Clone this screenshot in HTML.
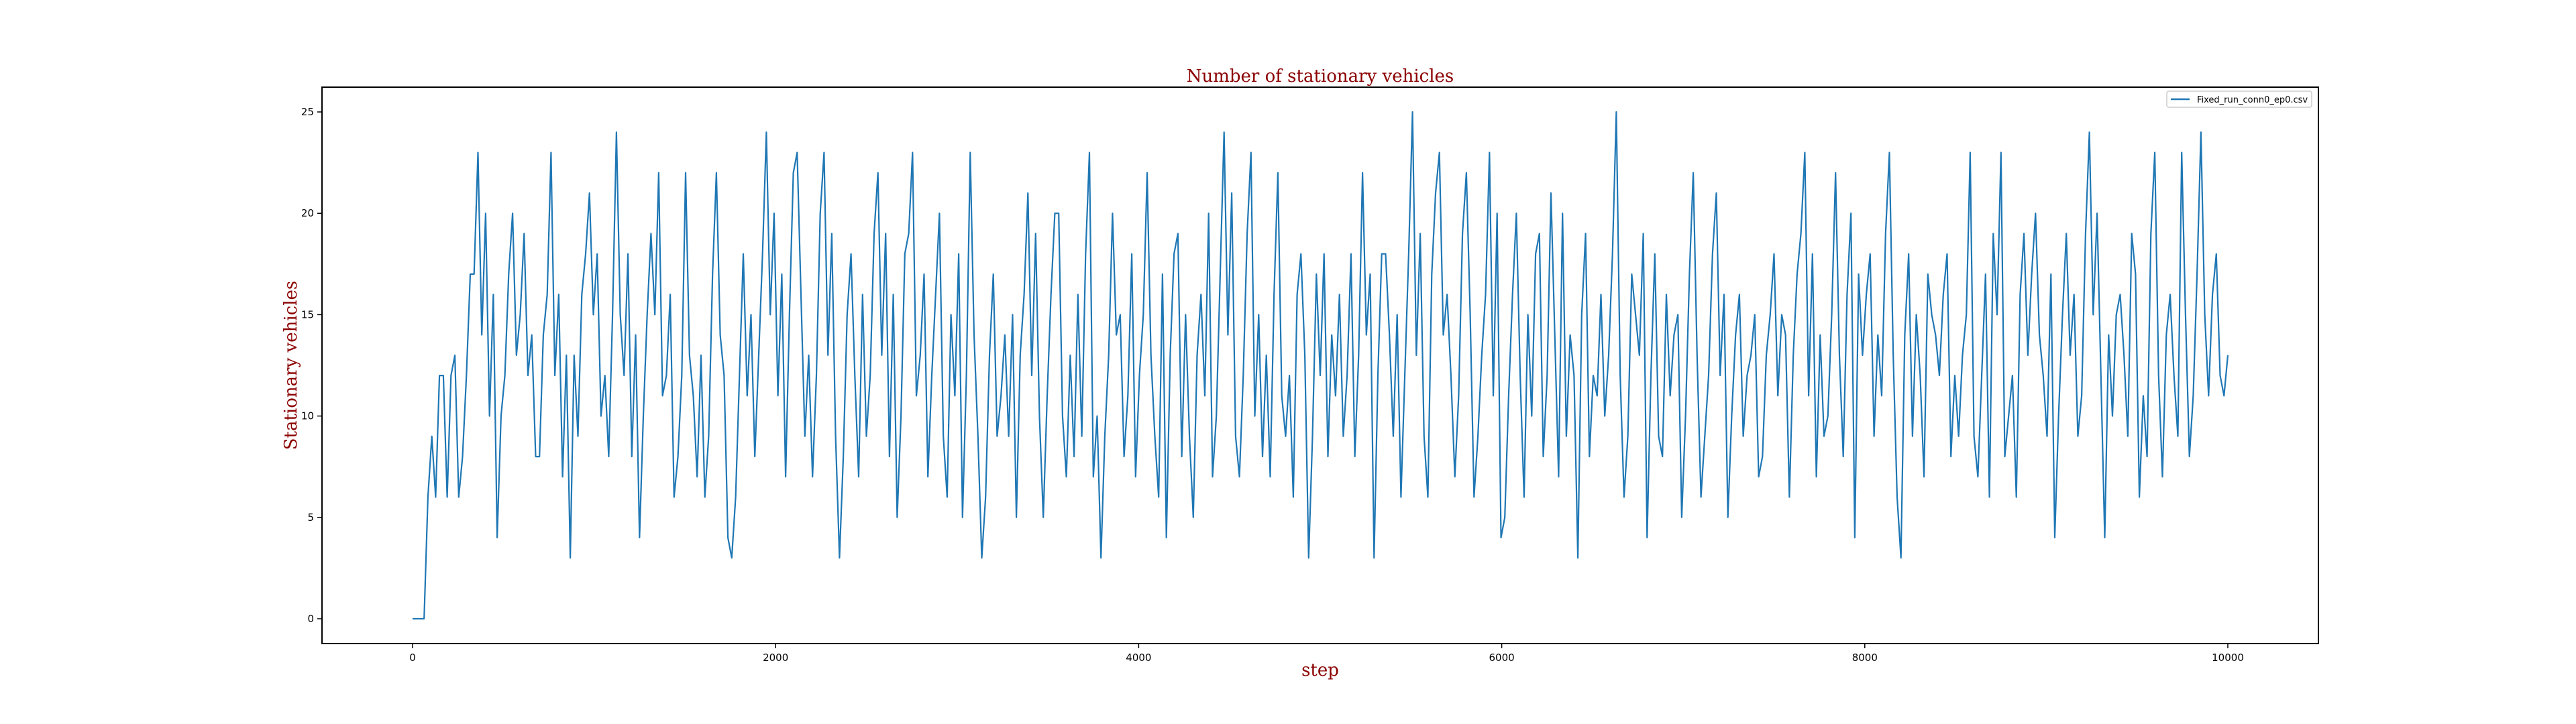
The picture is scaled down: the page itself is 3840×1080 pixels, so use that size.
<!DOCTYPE html>
<html><head><meta charset="utf-8"><style>
html,body{margin:0;padding:0;background:#fff;}
svg{display:block;}
</style></head><body>
<svg id="chart" width="3840" height="1080" xmlns="http://www.w3.org/2000/svg">
<rect x="0" y="0" width="3840" height="1080" fill="#fff"/>
<text x="1968" y="122" text-anchor="middle" font-family="DejaVu Serif, serif" font-size="26" fill="#8b0000">Number of stationary vehicles</text>
<text x="1968" y="1008" text-anchor="middle" font-family="DejaVu Serif, serif" font-size="26" fill="#8b0000">step</text>
<text transform="translate(442,545) rotate(-90)" text-anchor="middle" font-family="DejaVu Serif, serif" font-size="26" fill="#8b0000">Stationary vehicles</text>
<g id="ticks"></g>
<g id="series"></g>
<rect x="480" y="130" width="2976" height="830" fill="none" stroke="#000" stroke-width="2"/>
<g>
<rect x="3230" y="136" width="216" height="24" rx="3" fill="#fff" stroke="#ccc" stroke-width="1.5"/>
<line x1="3236" y1="148" x2="3264" y2="148" stroke="#1f77b4" stroke-width="2.5"/>
<text x="3275" y="153" font-family="DejaVu Sans, sans-serif" font-size="13" fill="#000">Fixed_run_conn0_ep0.csv</text>
</g>
</svg>
<script>
const xTicks = [0, 2000, 4000, 6000, 8000, 10000];
const yTicks = [0, 5, 10, 15, 20, 25];
const values = [0,0,0,0,6,9,6,12,12,6,12,13,6,8,12,17,17,23,14,20,10,16,4,10,12,17,20,13,15,19,12,14,8,8,14,16,23,12,16,7,13,3,13,9,16,18,21,15,18,10,12,8,15,24,15,12,18,8,14,4,10,15,19,15,22,11,12,16,6,8,12,22,13,11,7,13,6,9,17,22,14,12,4,3,6,12,18,11,15,8,13,18,24,15,20,11,17,7,15,22,23,16,9,13,7,12,20,23,13,19,9,3,8,15,18,12,7,16,9,12,19,22,13,19,8,16,5,10,18,19,23,11,13,17,7,12,16,20,9,6,15,11,18,5,12,23,14,9,3,6,13,17,9,11,14,9,15,5,13,16,21,12,19,10,5,11,16,20,20,10,7,13,8,16,9,18,23,7,10,3,9,13,20,14,15,8,11,18,7,12,15,22,13,9,6,17,4,13,18,19,8,15,9,5,13,16,11,20,7,10,17,24,14,21,9,7,12,19,23,10,15,8,13,7,16,22,11,9,12,6,16,18,13,3,9,17,12,18,8,14,11,16,9,12,18,8,13,22,14,17,3,12,18,18,14,9,15,6,12,18,25,13,19,9,6,17,21,23,14,16,12,7,11,19,22,15,6,9,13,16,23,11,20,4,5,11,16,20,12,6,15,10,18,19,8,12,21,14,7,20,9,14,12,3,15,19,8,12,11,16,10,13,18,25,12,6,9,17,15,13,19,4,12,18,9,8,16,11,14,15,5,10,17,22,13,6,9,12,18,21,12,16,5,10,14,16,9,12,13,15,7,8,13,15,18,11,15,14,6,13,17,19,23,11,18,7,14,9,10,15,22,13,8,16,20,4,17,13,16,18,9,14,11,19,23,13,6,3,14,18,9,15,12,7,17,15,14,12,16,18,8,12,9,13,15,23,9,7,12,17,6,19,15,23,8,10,12,6,16,19,13,17,20,14,12,9,17,4,10,15,19,13,16,9,11,19,24,15,20,12,4,14,10,15,16,13,9,19,17,6,11,8,19,23,12,7,14,16,12,9,23,15,8,11,17,24,15,11,16,18,12,11,13];
const maxStep = 10000;

const NS = 'http://www.w3.org/2000/svg';
function xScale(s){ return 615 + s * (3321 - 615) / 10000; }
function yScale(v){ return 923 - v * (923 - 167) / 25; }

const ticks = document.getElementById('ticks');
xTicks.forEach(t => {
  const l = document.createElementNS(NS, 'line');
  l.setAttribute('x1', xScale(t)); l.setAttribute('x2', xScale(t));
  l.setAttribute('y1', 960); l.setAttribute('y2', 967);
  l.setAttribute('stroke', '#000'); l.setAttribute('stroke-width', '1.5');
  
  
  ticks.appendChild(l);
  const tx = document.createElementNS(NS, 'text');
  tx.setAttribute('x', xScale(t)); tx.setAttribute('y', 986);
  tx.setAttribute('text-anchor', 'middle');
  tx.setAttribute('font-family', 'DejaVu Sans, sans-serif');
  tx.setAttribute('font-size', '15');
  tx.textContent = t;
  
  
  ticks.appendChild(tx);
});
yTicks.forEach(t => {
  const l = document.createElementNS(NS, 'line');
  l.setAttribute('x1', 473); l.setAttribute('x2', 480);
  l.setAttribute('y1', yScale(t)); l.setAttribute('y2', yScale(t));
  l.setAttribute('stroke', '#000'); l.setAttribute('stroke-width', '1.5');
  
  
  ticks.appendChild(l);
  const tx = document.createElementNS(NS, 'text');
  tx.setAttribute('x', 468); tx.setAttribute('y', yScale(t) + 5);
  tx.setAttribute('text-anchor', 'end');
  tx.setAttribute('font-family', 'DejaVu Sans, sans-serif');
  tx.setAttribute('font-size', '15');
  tx.textContent = t;
  
  
  ticks.appendChild(tx);
});

const n = values.length;
const pts = values.map((v, i) => xScale(i * maxStep / (n - 1)).toFixed(1) + ',' + yScale(v).toFixed(1)).join(' ');
const pl = document.createElementNS(NS, 'polyline');
pl.setAttribute('points', pts);
pl.setAttribute('fill', 'none');
pl.setAttribute('stroke', '#1f77b4');
pl.setAttribute('stroke-width', '2.2');
pl.setAttribute('stroke-linejoin', 'round');


document.getElementById('series').appendChild(pl);
</script>
</body></html>
